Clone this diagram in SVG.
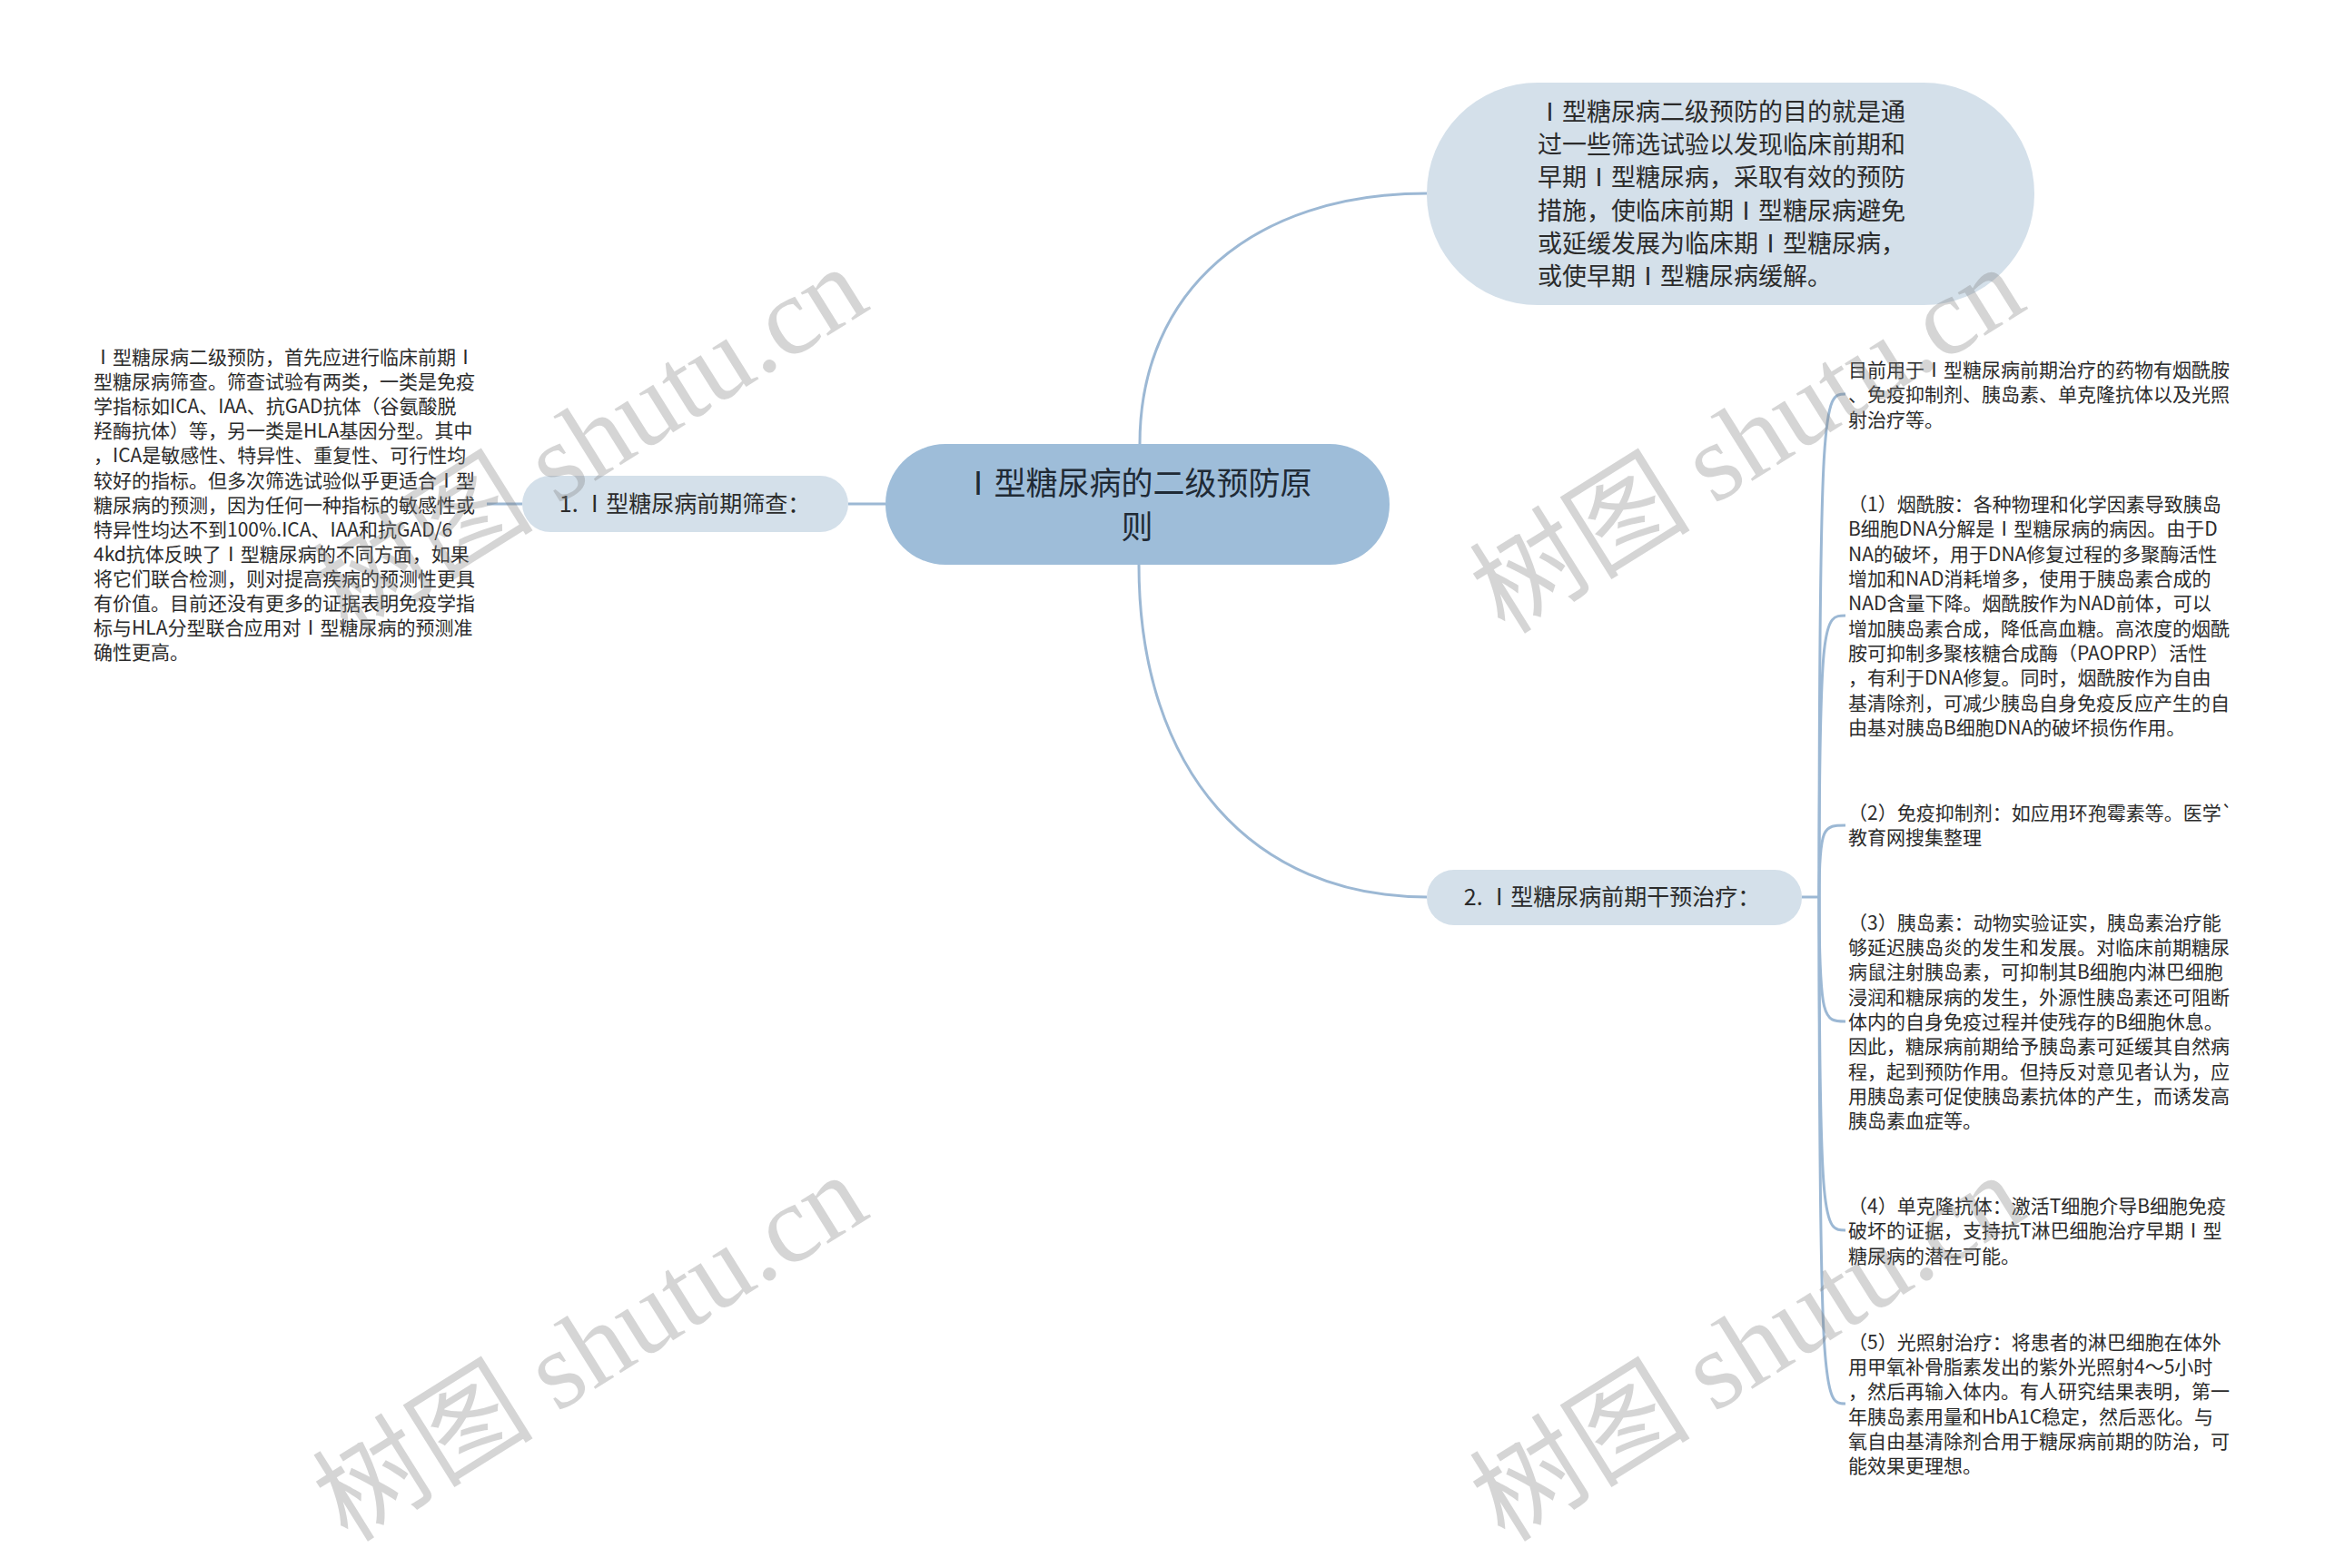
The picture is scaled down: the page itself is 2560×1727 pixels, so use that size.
<svg xmlns="http://www.w3.org/2000/svg" width="2560" height="1727" viewBox="0 0 2560 1727">
<style>
.t{font-family:"Noto Sans CJK SC","Noto Sans",sans-serif;fill:#2b2b2b}
.s{font-size:21px}
.m{font-size:25px;text-anchor:middle}
.c{font-size:35px;text-anchor:middle;fill:#1f2a35}
.p{font-size:27px}
.ln{fill:none;stroke:#9cb8d4;stroke-width:3}
.wm{font-family:"Noto Sans CJK SC","Liberation Serif",serif;font-size:122px;fill:#808080;fill-opacity:0.33}
</style>
<rect width="2560" height="1727" fill="#ffffff"/>
<g id="connectors">
<path class="ln" d="M1255 489 C1255 320 1380 213 1571 213"/>
<path class="ln" d="M1254 622 C1254 850 1380 988 1571 988"/>
<path class="ln" d="M975 555 L934 555"/>
<path class="ln" d="M575 555 L536 555"/>
<path class="ln" d="M1984 988 L2003 988"/>
<path class="ln" d="M2003 988 C2003 434 2008 434 2032 434"/>
<path class="ln" d="M2003 988 C2003 678 2008 678 2032 678"/>
<path class="ln" d="M2003 988 C2003 909 2008 909 2032 909"/>
<path class="ln" d="M2003 988 C2003 1125 2008 1125 2032 1125"/>
<path class="ln" d="M2003 988 C2003 1355 2008 1355 2032 1355"/>
<path class="ln" d="M2003 988 C2003 1546 2008 1546 2032 1546"/>
</g>
<g id="root">
<rect x="975" y="489" width="555" height="133" rx="66" fill="#9ebdd9"/>
<text class="t c" x="1252" y="545">Ⅰ型糖尿病的二级预防原</text>
<text class="t c" x="1252" y="593">则</text>
</g>
<g id="goal">
<rect x="1571" y="91" width="669" height="245" rx="122" fill="#d4e0ea"/>
<text class="t p" x="1693" y="133">Ⅰ型糖尿病二级预防的目的就是通</text>
<text class="t p" x="1693" y="169">过一些筛选试验以发现临床前期和</text>
<text class="t p" x="1693" y="205">早期Ⅰ型糖尿病，采取有效的预防</text>
<text class="t p" x="1693" y="242">措施，使临床前期Ⅰ型糖尿病避免</text>
<text class="t p" x="1693" y="278">或延缓发展为临床期Ⅰ型糖尿病，</text>
<text class="t p" x="1693" y="314">或使早期Ⅰ型糖尿病缓解。</text>
</g>
<g id="n1">
<rect x="575" y="524" width="359" height="62" rx="31" fill="#d4e0ea"/>
<text class="t m" x="754" y="564">1. Ⅰ型糖尿病前期筛查：</text>
</g>
<g id="n1-detail">
<text class="t s" x="103" y="401">Ⅰ型糖尿病二级预防，首先应进行临床前期Ⅰ</text>
<text class="t s" x="103" y="428">型糖尿病筛查。筛查试验有两类，一类是免疫</text>
<text class="t s" x="103" y="455">学指标如ICA、IAA、抗GAD抗体（谷氨酸脱</text>
<text class="t s" x="103" y="482">羟酶抗体）等，另一类是HLA基因分型。其中</text>
<text class="t s" x="103" y="509">，ICA是敏感性、特异性、重复性、可行性均</text>
<text class="t s" x="103" y="537">较好的指标。但多次筛选试验似乎更适合Ⅰ型</text>
<text class="t s" x="103" y="564">糖尿病的预测，因为任何一种指标的敏感性或</text>
<text class="t s" x="103" y="591">特异性均达不到100%.ICA、IAA和抗GAD/6</text>
<text class="t s" x="103" y="618">4kd抗体反映了Ⅰ型糖尿病的不同方面，如果</text>
<text class="t s" x="103" y="645">将它们联合检测，则对提高疾病的预测性更具</text>
<text class="t s" x="103" y="672">有价值。目前还没有更多的证据表明免疫学指</text>
<text class="t s" x="103" y="699">标与HLA分型联合应用对Ⅰ型糖尿病的预测准</text>
<text class="t s" x="103" y="726">确性更高。</text>
</g>
<g id="n2">
<rect x="1571" y="958" width="413" height="61" rx="30" fill="#d4e0ea"/>
<text class="t m" x="1775" y="997">2. Ⅰ型糖尿病前期干预治疗：</text>
</g>
<g id="c0">
<text class="t s" x="2035" y="415">目前用于Ⅰ型糖尿病前期治疗的药物有烟酰胺</text>
<text class="t s" x="2035" y="442">、免疫抑制剂、胰岛素、单克隆抗体以及光照</text>
<text class="t s" x="2035" y="470">射治疗等。</text>
</g>
<g id="c1">
<text class="t s" x="2035" y="563">（1）烟酰胺：各种物理和化学因素导致胰岛</text>
<text class="t s" x="2035" y="590">B细胞DNA分解是Ⅰ型糖尿病的病因。由于D</text>
<text class="t s" x="2035" y="618">NA的破坏，用于DNA修复过程的多聚酶活性</text>
<text class="t s" x="2035" y="645">增加和NAD消耗增多，使用于胰岛素合成的</text>
<text class="t s" x="2035" y="672">NAD含量下降。烟酰胺作为NAD前体，可以</text>
<text class="t s" x="2035" y="700">增加胰岛素合成，降低高血糖。高浓度的烟酰</text>
<text class="t s" x="2035" y="727">胺可抑制多聚核糖合成酶（PAOPRP）活性</text>
<text class="t s" x="2035" y="754">，有利于DNA修复。同时，烟酰胺作为自由</text>
<text class="t s" x="2035" y="782">基清除剂，可减少胰岛自身免疫反应产生的自</text>
<text class="t s" x="2035" y="809">由基对胰岛B细胞DNA的破坏损伤作用。</text>
</g>
<g id="c2">
<text class="t s" x="2035" y="903">（2）免疫抑制剂：如应用环孢霉素等。医学`</text>
<text class="t s" x="2035" y="930">教育网搜集整理</text>
</g>
<g id="c3">
<text class="t s" x="2035" y="1024">（3）胰岛素：动物实验证实，胰岛素治疗能</text>
<text class="t s" x="2035" y="1051">够延迟胰岛炎的发生和发展。对临床前期糖尿</text>
<text class="t s" x="2035" y="1078">病鼠注射胰岛素，可抑制其B细胞内淋巴细胞</text>
<text class="t s" x="2035" y="1106">浸润和糖尿病的发生，外源性胰岛素还可阻断</text>
<text class="t s" x="2035" y="1133">体内的自身免疫过程并使残存的B细胞休息。</text>
<text class="t s" x="2035" y="1160">因此，糖尿病前期给予胰岛素可延缓其自然病</text>
<text class="t s" x="2035" y="1188">程，起到预防作用。但持反对意见者认为，应</text>
<text class="t s" x="2035" y="1215">用胰岛素可促使胰岛素抗体的产生，而诱发高</text>
<text class="t s" x="2035" y="1242">胰岛素血症等。</text>
</g>
<g id="c4">
<text class="t s" x="2035" y="1336">（4）单克隆抗体：激活T细胞介导B细胞免疫</text>
<text class="t s" x="2035" y="1363">破坏的证据，支持抗T淋巴细胞治疗早期Ⅰ型</text>
<text class="t s" x="2035" y="1391">糖尿病的潜在可能。</text>
</g>
<g id="c5">
<text class="t s" x="2035" y="1486">（5）光照射治疗：将患者的淋巴细胞在体外</text>
<text class="t s" x="2035" y="1513">用甲氧补骨脂素发出的紫外光照射4～5小时</text>
<text class="t s" x="2035" y="1540">，然后再输入体内。有人研究结果表明，第一</text>
<text class="t s" x="2035" y="1568">年胰岛素用量和HbA1C稳定，然后恶化。与</text>
<text class="t s" x="2035" y="1595">氧自由基清除剂合用于糖尿病前期的防治，可</text>
<text class="t s" x="2035" y="1622">能效果更理想。</text>
</g>
<g id="watermarks">
<text class="wm" x="383" y="700" transform="rotate(-32 383 700)">树图 <tspan font-family="Liberation Serif">shutu.cn</tspan></text>
<text class="wm" x="1657" y="700" transform="rotate(-32 1657 700)">树图 <tspan font-family="Liberation Serif">shutu.cn</tspan></text>
<text class="wm" x="383" y="1700" transform="rotate(-32 383 1700)">树图 <tspan font-family="Liberation Serif">shutu.cn</tspan></text>
<text class="wm" x="1657" y="1700" transform="rotate(-32 1657 1700)">树图 <tspan font-family="Liberation Serif">shutu.cn</tspan></text>
</g>
</svg>
